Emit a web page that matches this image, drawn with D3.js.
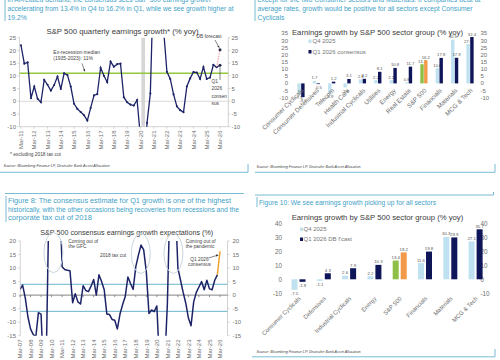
<!DOCTYPE html>
<html><head><meta charset="utf-8">
<script src="https://cdn.jsdelivr.net/npm/d3@7"></script>
<style>
html,body{margin:0;padding:0;background:#fff;}
svg{display:block;font-family:"Liberation Sans",Arial,Helvetica,sans-serif;}
</style></head><body>
<svg id="c" width="500" height="360"></svg>
<script>
// ---------------- DATA ----------------
// Panel 1: S&P 500 quarterly earnings growth (% yoy), Mar-11 .. Dec-25
const yearLabels1 = ["Mar-11","Mar-12","Mar-13","Mar-14","Mar-15","Mar-16","Mar-17","Mar-18","Mar-19","Mar-20","Mar-21","Mar-22","Mar-23","Mar-24","Mar-25","Mar-26"];
const growth1 = [22.0,14.8,15.3,1.2, 5.8,1.0,-0.4,8.4, 6.5,4.2,6.4,9.7, 4.8,11.0,10.3,5.8,
  -1.0,-3.0,-4.2,-5.5, -7.6,-2.6,2.3,2.8, 13.2,10.0,7.5,15.6, 13.6,14.6,14.8,1.6,
  -0.4,-1.3,-1.7,0.5, -14,-30,-8.5,3.1, 50,90,40,28, 11.6,8.8,2.7,-2.0,
  -3.5,-4.3,5.8,9.0, 11.5,11.3,8.8,13.5, 8.8,9.3,14.3,13.4];
const q1Consensus1 = 14.2;
const dbForecast1 = 20.3;
const exRecessionMedian = 11;
const recessionQ = [36.3, 37.4]; // quarter index span (Mar-11 = 0)
const yTicks1 = [-10,-5,0,5,10,15,20,25];

// Panel 2: sector growth, Q4 2025 vs Q1 2026 consensus
const sectors2 = ["Consumer Cyclicals","Consumer Defensives","Telecom","Health Care","Industrial Cyclicals","Utilities","Energy","Real Estate","S&P 500","Financials","Materials","MCG & Tech"];
const q4_2 = [-7.5,1.7,-6.9,-2.8,2.8,2.2,2.2,0.8,13.4,10.6,30.5,27.5];
const q1cons_2 = [-9.6,-0.5,1.2,3.1,3.2,8.1,10.8,11.7,16.2,17.8,17.9,32.4];
const yTicks2 = [-10,-5,0,5,10,15,20,25,30,35];

// Panel 3: S&P 500 consensus earnings growth expectations (%), quarterly Mar-07 .. Mar-26
const yearLabels3 = ["Mar-07","Mar-08","Mar-09","Mar-10","Mar-11","Mar-12","Mar-13","Mar-14","Mar-15","Mar-16","Mar-17","Mar-18","Mar-19","Mar-20","Mar-21","Mar-22","Mar-23","Mar-24","Mar-25","Mar-26"];
const expect3 = [2.1,3.7,-1.0,-8.0, -12.5,-14.5,-15.5,-6.5, -7.0,-30,-22,34, 55,70,55,40,
  10.5,9.5,9.2,9.0, -2.8,0.5,-2.5,-3.3, 3.5,1.7,1.3,3.3, 5.8,0.0,7.5,5.0,
  2.0,-7.0,-7.2,-9.0, -9.3,-12.5,-7.0,-3.5, -0.5,6.7,4.3,2.1, 10.5,14.8,18.5,16.7,
  8.7,-6.8,-5.5,-6.1, -4.0,-25,-40,-25, -3.3,36,60,35, 10.0,5.5,1.0,-3.0,
  -8.5,-11.3,-2.5,1.0, 3.0,5.0,2.0,5.5, 2.3,2.0,5.5,7.5, 16.2];
const bandLines3 = [4,-6];
const yTicks3 = [-15,-10,-5,0,5,10,15,20];

// Panel 4: sector growth, Q4 2025 vs Q1 2026 DB forecast
const sectors4 = ["Consumer Cyclicals","Defensives","Industrial Cyclicals","Energy","S&P 500","Financials","Materials","MCG & Tech"];
const q4_4 = [-7.5,-1.1,2.6,2.2,13.4,11.6,30.3,27.1];
const q1db_4 = [-1.8,4.3,7.9,10.3,19.2,19.8,29.9,35.7];
const yTicks4 = [-10,0,10,20,30,40];

// Texts
const capTop1 = ["in AI-related demand, the consensus sees S&P 500 earnings growth","accelerating from 13.4% in Q4 to 16.2% in Q1, while we see growth higher at","19.2%"];
const capTop2 = ["except for the two Consumer sectors and Materials. If companies beat at","average rates, growth would be positive for all sectors except Consumer","Cyclicals"];
const capFig8 = ["Figure 8: The consensus estimate for Q1 growth is one of the highest","historically, with the other occasions being recoveries from recessions and the","corporate tax cut of 2018"];
const capFig10 = "Figure 10: We see earnings growth picking up for all sectors";
const sourceText = "Source: Bloomberg Finance LP, Deutsche Bank Asset Allocation";

// ---------------- STYLE ----------------
const TEAL="#3f9fc6", BORDER="#79bcd6", NAVY="#1d2367", DARKBAR="#0e1558", LIGHTBAR="#bfe1f0",
      GREEN="#8fbf47", ORANGE="#f2994a", HGREEN="#93c83f", GRID="#c8c8c8", TICK="#6d6d6d", TITLE="#3a3a3a";

const svg = d3.select("#c");
const defs = svg.append("defs");
defs.append("marker").attr("id","arr").attr("viewBox","0 0 10 10").attr("refX",9).attr("refY",5)
  .attr("markerWidth",4).attr("markerHeight",4).attr("orient","auto")
  .append("path").attr("d","M0,0L10,5L0,10z").attr("fill","#333");

function text(x,y,s,o={}){
  const t = svg.append("text").attr("x",x).attr("y",y).text(s)
    .attr("font-size",o.size||6).attr("fill",o.fill||TITLE)
    .attr("text-anchor",o.anchor||"start");
  if(o.italic) t.attr("font-style","italic");
  if(o.width) t.attr("textLength",o.width).attr("lengthAdjust","spacingAndGlyphs");
  if(o.rotate!=null) t.attr("transform",`rotate(${o.rotate},${x},${y})`);
  if(o.dy) t.attr("dy",o.dy);
  return t;
}
function line(x1,y1,x2,y2,stroke,w=1,dash=null){
  const l = svg.append("line").attr("x1",x1).attr("y1",y1).attr("x2",x2).attr("y2",y2)
    .attr("stroke",stroke).attr("stroke-width",w);
  if(dash) l.attr("stroke-dasharray",dash);
  return l;
}
function yAxes(y, ticks, xl, xr, lblL, lblR, size){
  line(xl,y.range()[0],xl,y.range()[1],GRID,0.8);
  line(xr,y.range()[0],xr,y.range()[1],GRID,0.8);
  ticks.forEach(t=>{
    line(xl-2,y(t),xl,y(t),GRID,0.8);
    line(xr,y(t),xr+2,y(t),GRID,0.8);
    text(lblL,y(t),t,{size:size,fill:TICK,anchor:"end",dy:"0.35em"});
    text(lblR,y(t),t,{size:size,fill:TICK,anchor:"start",dy:"0.35em"});
  });
}

// ================= PANEL 1 =================
line(5,0,5,21,BORDER,1);
capTop1.forEach((s,i)=>text(7.5,1.5+9*i,s,{size:6.8,fill:TEAL,width:[203,226,null][i]}));
text(122.5,34,"S&P 500 quarterly earnings growth* (% yoy)",{size:7.8,anchor:"middle",fill:TITLE,width:152});

const x1 = d3.scaleLinear().domain([0,60]).range([21,220]);
const y1 = d3.scaleLinear().domain([-10,25]).range([126.7,37.7]);
const L1 = 19.5, R1 = 228.3;
svg.append("rect").attr("x",x1(recessionQ[0])).attr("y",y1(25)).attr("width",x1(recessionQ[1])-x1(recessionQ[0]))
  .attr("height",y1(-10)-y1(25)).attr("fill","#d6d6d6");
yAxes(y1,yTicks1,L1,R1,16,231.5,6);
line(L1,y1(0),R1,y1(0),"#d0d0d0",0.8);
line(L1,y1(-10),R1,y1(-10),GRID,0.8);
line(L1,y1(exRecessionMedian),R1,y1(exRecessionMedian),HGREEN,1.4);
yearLabels1.forEach((s,k)=>{
  line(x1(4*k),y1(-10),x1(4*k),y1(-10)+2,GRID,0.8);
  text(x1(4*k)+2.2,130.5,s,{size:6,fill:TICK,anchor:"end",rotate:-90});
});
defs.append("clipPath").attr("id","clip1").append("rect").attr("x",L1).attr("y",y1(25)).attr("width",R1-L1).attr("height",y1(-10)-y1(25));
const g1 = svg.append("g").attr("clip-path","url(#clip1)");
const pts1 = growth1.map((v,i)=>[i,v]);
g1.append("path").datum(pts1).attr("d",d3.line().x(d=>x1(d[0])).y(d=>y1(d[1])))
  .attr("fill","none").attr("stroke",NAVY).attr("stroke-width",1.3);
g1.selectAll("circle.p").data(pts1).join("circle").attr("cx",d=>x1(d[0])).attr("cy",d=>y1(d[1])).attr("r",1.05).attr("fill",NAVY);
const last1 = growth1.length-1;
g1.append("path").datum([[last1,growth1[last1]],[60,dbForecast1]]).attr("d",d3.line().x(d=>x1(d[0])).y(d=>y1(d[1])))
  .attr("fill","none").attr("stroke","#f0a0a8").attr("stroke-width",1.1).attr("stroke-dasharray","1.5,1");
g1.append("path").datum([[last1,growth1[last1]],[60,q1Consensus1]]).attr("d",d3.line().x(d=>x1(d[0])).y(d=>y1(d[1])))
  .attr("fill","none").attr("stroke",NAVY).attr("stroke-width",1.1);
g1.append("circle").attr("cx",x1(60)).attr("cy",y1(dbForecast1)).attr("r",1.5).attr("fill","#2a2a4a");
g1.append("circle").attr("cx",x1(60)).attr("cy",y1(q1Consensus1)).attr("r",1.5).attr("fill","#2a2a4a");
text(53.3,53.5,"Ex-recession median",{size:5,fill:"#444"});
text(53.3,60.3,"(1935-2023): 11%",{size:5,fill:"#444"});
line(82,63.5,x1(20)-2.5,y1(exRecessionMedian)-2,"#333",0.6).attr("marker-end","url(#arr)");
text(196.5,38.3,"DB forecast",{size:4.8,fill:"#444"});
line(215,40,x1(60)-0.8,y1(dbForecast1)-2,"#333",0.6).attr("marker-end","url(#arr)");
["Q1","2026","consen","sus"].forEach((s,i)=>text(211.5,82.5+7.6*i,s,{size:4.8,fill:"#444"}));
line(x1(60),80,x1(60),y1(q1Consensus1)+2,"#333",0.6);
text(10,156.3,"* excluding 2018 tax cut",{size:4.8,fill:"#444"});
text(3.5,166.8,sourceText,{size:4.2,fill:"#444",italic:true,width:106});
line(0,172.3,248,172.3,BORDER,1);
line(248,164,248,172.3,BORDER,1);

// ================= PANEL 2 =================
line(255,0,255,21,BORDER,1);
capTop2.forEach((s,i)=>text(257.5,1.5+9*i,s,{size:6.8,fill:TEAL,width:[223,215,null][i]}));
text(377.5,35,"Earnings growth by S&P 500 sector group (% yoy)",{size:7.8,anchor:"middle",fill:TITLE,width:171});
const x2 = d3.scaleBand().domain(sectors2).range([293.3,477.7]);
const s2 = d3.scaleBand().domain(["q4","q1"]).range([-3.6,3.6]).paddingInner(0.1);
const y2 = d3.scaleLinear().domain([-10,35]).range([97.7,33.3]);
yTicks2.forEach(t=>{
  text(288,y2(t),t,{size:6,fill:TICK,anchor:"end",dy:"0.35em"});
  text(480.5,y2(t),t,{size:6,fill:TICK,anchor:"start",dy:"0.35em"});
});
function bars(xs, ss, ys, cats, a, b, colA, colB, hiCat, hiA, hiB, lblSize){
  const c = d => xs(d)+xs.bandwidth()/2;
  [[a,"q4",colA,hiA],[b,"q1",colB,hiB]].forEach(([vals,key,col,hi])=>{
    svg.append("g").selectAll("rect").data(cats).join("rect")
      .attr("x",(d)=>c(d)+ss(key)).attr("width",ss.bandwidth())
      .attr("y",(d,i)=>ys(Math.max(0,vals[i]))).attr("height",(d,i)=>Math.abs(ys(vals[i])-ys(0)))
      .attr("fill",d=>d===hiCat?hi:col);
    svg.append("g").selectAll("text").data(cats).join("text")
      .attr("x",d=>c(d)+ss(key)+ss.bandwidth()/2)
      .attr("y",(d,i)=>vals[i]>=0?ys(vals[i])-1.5:ys(vals[i])+lblSize+1)
      .attr("text-anchor","middle").attr("font-size",lblSize).attr("fill","#555")
      .text((d,i)=>vals[i].toFixed(1));
  });
}
bars(x2,s2,y2,sectors2,q4_2,q1cons_2,LIGHTBAR,DARKBAR,"S&P 500",GREEN,ORANGE,4.2);
sectors2.forEach(d=>{
  const cx = x2(d)+x2.bandwidth()/2;
  text(cx+3,91,d,{size:6.3,fill:TICK,anchor:"end",rotate:-45});
});
svg.append("rect").attr("x",308.5).attr("y",39.5).attr("width",3).attr("height",3.5).attr("fill",LIGHTBAR);
text(312.5,43,"Q4 2025",{size:6,fill:"#777"});
svg.append("rect").attr("x",308.5).attr("y",50).attr("width",3).attr("height",3.5).attr("fill",DARKBAR);
text(312.5,53.5,"Q1 2026 consensus",{size:6,fill:"#777"});
text(256.5,167.5,sourceText,{size:4.2,fill:"#444",italic:true,width:104});
line(255,172.3,495,172.3,BORDER,1);
line(495,164,495,172.3,BORDER,1);

// ================= PANEL 3 =================
line(5,193.5,244,193.5,BORDER,1);
line(6,196,6,222,BORDER,1);
capFig8.forEach((s,i)=>text(8,202.8+8.8*i,s,{size:6.8,fill:TEAL,width:[223,231,84][i]}));
text(126.7,235,"S&P 500 consensus earnings growth expectations (%)",{size:7.8,anchor:"middle",fill:TITLE,width:173});
const x3 = d3.scaleLinear().domain([0,76]).range([20,220]);
const y3 = d3.scaleLinear().domain([-15,20]).range([335.7,241]);
const L3 = 20.3, R3 = 227.5;
yAxes(y3,yTicks3,L3,R3,16,232.5,6);
bandLines3.forEach(v=>line(L3,y3(v),R3,y3(v),"#6cb4cb",1));
line(L3,y3(0),R3,y3(0),"#777",0.9);
yearLabels3.forEach((s,k)=>{
  line(x3(4*k),y3(0),x3(4*k),y3(0)+2,"#777",0.8);
  text(x3(4*k)+2.2,339.5,s,{size:6,fill:TICK,anchor:"end",rotate:-90});
});
defs.append("clipPath").attr("id","clip3").append("rect").attr("x",L3).attr("y",y3(20)).attr("width",R3-L3).attr("height",y3(-15)-y3(20));
const g3 = svg.append("g").attr("clip-path","url(#clip3)");
const pts3 = expect3.map((v,i)=>[i,v]);
const n3 = expect3.length;
g3.append("path").datum(pts3.slice(0,n3-1)).attr("d",d3.line().x(d=>x3(d[0])).y(d=>y3(d[1])))
  .attr("fill","none").attr("stroke",NAVY).attr("stroke-width",1.5).attr("stroke-linejoin","round");
g3.append("path").datum(pts3.slice(n3-2)).attr("d",d3.line().x(d=>x3(d[0])).y(d=>y3(d[1])))
  .attr("fill","none").attr("stroke","#f0a132").attr("stroke-width",1.5);
[[12.7,15.7],[45.9,15.4],[58.3,15.4]].forEach(([j,v])=>{
  svg.append("ellipse").attr("cx",x3(j)).attr("cy",y3(v)).attr("rx",9.5).attr("ry",20)
    .attr("fill","none").attr("stroke","#c9d6de").attr("stroke-width",1);
});
text(68.3,242.5,"Coming out of",{size:4.8,fill:"#444"});
text(68.3,247.5,"the GFC",{size:4.8,fill:"#444"});
text(100,256.5,"2018 tax cut",{size:4.8,fill:"#444"});
text(185.7,242.5,"Coming out of",{size:4.8,fill:"#444"});
text(185.7,247.5,"the pandemic",{size:4.8,fill:"#444"});
text(199.5,260.5,"Q1 2026",{size:4.8,fill:"#444",anchor:"middle"});
text(199.5,265.5,"consensus",{size:4.8,fill:"#444",anchor:"middle"});
line(208.5,258,x3(75.7)-1,y3(15)+0.5,"#333",0.6).attr("marker-end","url(#arr)");

// ================= PANEL 4 =================
line(255,195,493.5,195,BORDER,1);
line(493.5,192,493.5,195,BORDER,1);
line(257,197,257,207,BORDER,1);
text(259,204.5,capFig10,{size:6.8,fill:TEAL,width:177});
text(377.5,219.5,"Earnings growth by S&P 500 sector group (% yoy)",{size:7.8,anchor:"middle",fill:TITLE,width:171.6});
const x4 = d3.scaleBand().domain(sectors4).range([285.85,488.25]);
const s4 = d3.scaleBand().domain(["q4","q1"]).range([-7,7]).paddingInner(0.25);
const y4 = d3.scaleLinear().domain([-10,40]).range([293.3,223.3]);
yTicks4.forEach(t=>{
  text(282,y4(t),t,{size:6.3,fill:TICK,anchor:"end",dy:"0.35em"});
  text(480.5,y4(t),t,{size:6.3,fill:TICK,anchor:"start",dy:"0.35em"});
});
bars(x4,s4,y4,sectors4,q4_4,q1db_4,LIGHTBAR,DARKBAR,"S&P 500",GREEN,ORANGE,4.3);
sectors4.forEach(d=>{
  const cx = x4(d)+x4.bandwidth()/2;
  text(cx+2.5,299,d,{size:5.9,fill:TICK,anchor:"end",rotate:-45});
});
svg.append("rect").attr("x",300).attr("y",227.5).attr("width",3).attr("height",3.5).attr("fill",LIGHTBAR);
text(303.5,231.2,"Q4 2025",{size:6,fill:"#777"});
svg.append("rect").attr("x",300).attr("y",237.5).attr("width",3).attr("height",3.5).attr("fill",DARKBAR);
text(303.5,241.2,"Q1 2026 DB f'cast",{size:6,fill:"#777"});
text(256.5,352.8,sourceText,{size:4.2,fill:"#444",italic:true,width:104});
line(252,356.8,495,356.8,BORDER,1);
line(495,349,495,356.8,BORDER,1);
</script>
</body></html>
